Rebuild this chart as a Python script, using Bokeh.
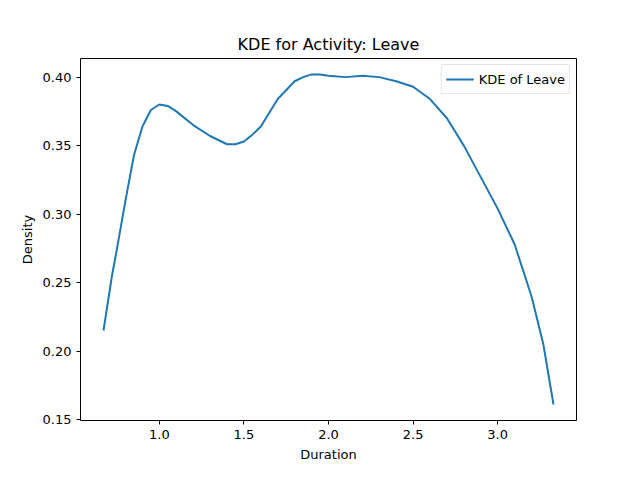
from bokeh.plotting import figure
from bokeh.models import Range1d, Legend, LegendItem, CustomJSTickFormatter
from bokeh.embed import file_html
from bokeh.resources import INLINE

# values
duration = [0.67, 0.72, 0.75, 0.8, 0.85, 0.9, 0.95, 1.0, 1.05, 1.1, 1.2, 1.3, 1.4, 1.45, 1.5, 1.55, 1.6, 1.7,
            1.8, 1.85, 1.9, 1.95, 2.0, 2.1, 2.2, 2.3, 2.4, 2.5, 2.6, 2.7, 2.8, 2.9, 3.0, 3.1, 3.2, 3.27, 3.33]
density = [0.215, 0.255, 0.275, 0.310, 0.343, 0.364, 0.376, 0.380, 0.379, 0.375, 0.365, 0.357, 0.351, 0.351,
           0.353, 0.358, 0.364, 0.384, 0.397, 0.400, 0.402, 0.402, 0.401, 0.400, 0.401, 0.400, 0.397, 0.393,
           0.384, 0.370, 0.350, 0.327, 0.304, 0.278, 0.240, 0.205, 0.161]

FONT = "DejaVu Sans"

p = figure(width=624, height=464, output_backend="svg", toolbar_location=None,
           x_range=Range1d(0.534, 3.466), y_range=Range1d(0.1493, 0.4136),
           min_border_left=80, min_border_right=48, min_border_top=58, min_border_bottom=37,
           title="KDE for Activity: Leave")
p.title.align = "center"
p.title.text_font = FONT
p.title.text_font_size = "16px"
p.title.text_font_style = "normal"
p.title.text_color = "black"

r = p.line(duration, density, line_color="#1f77b4", line_width=2)

p.xgrid.visible = False
p.ygrid.visible = False
p.outline_line_color = "black"
p.xaxis.ticker = [1.0, 1.5, 2.0, 2.5, 3.0]
p.yaxis.ticker = [0.15, 0.20, 0.25, 0.30, 0.35, 0.40]
p.xaxis.axis_label = "Duration"
p.yaxis.axis_label = "Density"
for ax in (p.xaxis, p.yaxis):
    ax.major_tick_in = 0
    ax.major_tick_out = 4
    ax.major_tick_line_color = "black"
    ax.minor_tick_out = 0
    ax.minor_tick_in = 0
    ax.major_label_text_font = FONT
    ax.major_label_text_font_size = "13px"
    ax.major_label_text_color = "black"
    ax.axis_label_text_font = FONT
    ax.axis_label_text_font_size = "13px"
    ax.axis_label_text_font_style = "normal"
    ax.axis_label_text_color = "black"
    ax.axis_line_color = None
p.yaxis.formatter = CustomJSTickFormatter(code="return tick.toFixed(2)")
p.xaxis.formatter = CustomJSTickFormatter(code="return tick.toFixed(1)")

legend = Legend(items=[LegendItem(label="KDE of Leave", renderers=[r])], location="top_right")
legend.label_text_font = FONT
legend.label_text_font_size = "13px"
legend.label_text_color = "black"
legend.border_line_color = "#cccccc"
legend.glyph_width = 28
legend.spacing = 0
legend.padding = 4
legend.margin = 6
p.add_layout(legend)

open("out.html", "w").write(file_html(p, INLINE))
